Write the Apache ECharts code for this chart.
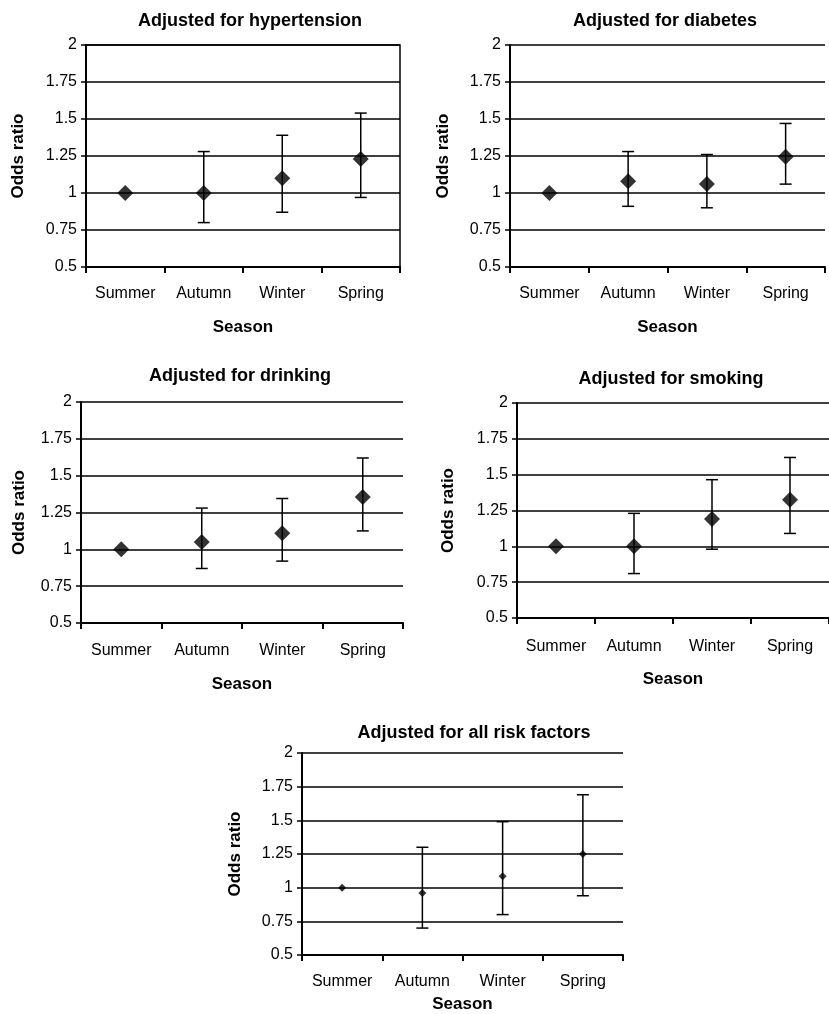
<!DOCTYPE html>
<html>
<head>
<meta charset="utf-8">
<script src="https://cdn.jsdelivr.net/npm/echarts@6/dist/echarts.min.js"></script>
<style>
  html, body { margin: 0; padding: 0; background: #fff; }
  #main { width: 829px; height: 1014px; }
</style>
</head>
<body>
<div id="main"></div>
<script>
const seasons = ['Summer', 'Autumn', 'Winter', 'Spring'];
const yTicks = [0.5, 0.75, 1, 1.25, 1.5, 1.75, 2];

const titles = [
  'Adjusted for hypertension',
  'Adjusted for diabetes',
  'Adjusted for drinking',
  'Adjusted for smoking',
  'Adjusted for all risk factors'
];

// odds ratio + lower/upper limits (Summer is the reference, no bar)
const orHyper = [1.00, 1.00, 1.10, 1.23];
const loHyper = [null, 0.80, 0.87, 0.97];
const hiHyper = [null, 1.28, 1.39, 1.54];

const orDiab = [1.00, 1.08, 1.06, 1.245];
const loDiab = [null, 0.91, 0.90, 1.06];
const hiDiab = [null, 1.28, 1.26, 1.47];

const orDrink = [1.00, 1.05, 1.11, 1.355];
const loDrink = [null, 0.87, 0.92, 1.125];
const hiDrink = [null, 1.28, 1.345, 1.62];

const orSmoke = [1.00, 1.00, 1.19, 1.325];
const loSmoke = [null, 0.81, 0.98, 1.09];
const hiSmoke = [null, 1.23, 1.465, 1.62];

const orAll = [1.00, 0.96, 1.085, 1.25];
const loAll = [null, 0.70, 0.80, 0.94];
const hiAll = [null, 1.30, 1.49, 1.69];

const panels = [
  { or: orHyper, lo: loHyper, hi: hiHyper },
  { or: orDiab, lo: loDiab, hi: hiDiab },
  { or: orDrink, lo: loDrink, hi: hiDrink },
  { or: orSmoke, lo: loSmoke, hi: hiSmoke },
  { or: orAll, lo: loAll, hi: hiAll }
];

// layout of each small chart
const boxes = [
  { left: 86, top: 45, width: 314, height: 222, tx: 245, ty: 7, yGap: 59, xGap: 52, lblM: 19, sym: 16, border: true },
  { left: 510, top: 45, width: 315, height: 222, tx: 660, ty: 7, yGap: 58, xGap: 52, lblM: 19, sym: 16 },
  { left: 81, top: 402, width: 322, height: 221, tx: 235, ty: 362, yGap: 53, xGap: 53, lblM: 20, sym: 16 },
  { left: 517, top: 403, width: 316, height: 215, tx: 666, ty: 365, yGap: 60, xGap: 53, lblM: 21, sym: 16 },
  { left: 302, top: 753, width: 321, height: 204, tx: 469, ty: 719, yGap: 58, xGap: 41, lblM: 19, sym: 8 }
];

const font = 'Liberation Sans, Arial, sans-serif';

var myChart = echarts.init(document.getElementById('main'));

let grid = [], xAxis = [], yAxis = [], title = [], series = [];

for (let i = 0; i < panels.length; i++) {
  const b = boxes[i];
  const p = panels[i];

  grid.push({
    left: b.left, top: b.top, width: b.width, height: b.height,
    show: !!b.border, borderColor: '#000', borderWidth: 1.5
  });

  title.push({
    text: titles[i],
    left: b.tx, top: b.ty, textAlign: 'center',
    textStyle: { fontFamily: font, fontSize: 18, fontWeight: 'bold', color: '#000' }
  });

  xAxis.push({
    type: 'category', gridIndex: i, data: seasons,
    name: 'Season', nameLocation: 'middle', nameGap: b.xGap,
    nameTextStyle: { fontFamily: font, fontSize: 17, fontWeight: 'bold', color: '#000' },
    axisLine: { lineStyle: { color: '#000', width: 2 } },
    axisTick: { show: true, interval: 0, length: 6, lineStyle: { color: '#000', width: 2 } },
    axisLabel: { interval: 0, fontFamily: font, fontSize: 16, color: '#000', margin: b.lblM },
    splitLine: { show: false }
  });

  yAxis.push({
    type: 'value', gridIndex: i, min: 0.5, max: 2, interval: 0.25,
    name: 'Odds ratio', nameLocation: 'middle', nameRotate: 90, nameGap: b.yGap,
    nameTextStyle: { fontFamily: font, fontSize: 17, fontWeight: 'bold', color: '#000' },
    axisLine: { show: true, lineStyle: { color: '#000', width: 2 } },
    axisTick: { show: true, length: 5, lineStyle: { color: '#000', width: 1.5 } },
    axisLabel: { fontFamily: font, fontSize: 16, color: '#000', margin: 9 },
    splitLine: { show: true, lineStyle: { color: '#000', width: 1.5 } }
  });

  let bars = [];
  for (let k = 0; k < seasons.length; k++) {
    if (p.lo[k] != null) bars.push([k, p.lo[k], p.hi[k]]);
  }

  series.push({
    type: 'custom', xAxisIndex: i, yAxisIndex: i,
    data: bars,
    encode: { x: 0, y: [1, 2] },
    z: 3,
    renderItem: function (params, api) {
      const x = api.value(0);
      const lo = api.coord([x, api.value(1)]);
      const hi = api.coord([x, api.value(2)]);
      const cap = 6;
      const st = { stroke: '#000', lineWidth: 1.5 };
      return {
        type: 'group',
        children: [
          { type: 'line', shape: { x1: lo[0], y1: lo[1], x2: hi[0], y2: hi[1] }, style: st },
          { type: 'line', shape: { x1: lo[0] - cap, y1: lo[1], x2: lo[0] + cap, y2: lo[1] }, style: st },
          { type: 'line', shape: { x1: hi[0] - cap, y1: hi[1], x2: hi[0] + cap, y2: hi[1] }, style: st }
        ]
      };
    }
  });

  series.push({
    type: 'scatter', xAxisIndex: i, yAxisIndex: i,
    data: p.or,
    symbol: 'diamond', symbolSize: b.sym,
    itemStyle: { color: '#000' },
    z: 4
  });
}

var option = {
  backgroundColor: '#fff',
  animation: false,
  title: title,
  grid: grid,
  xAxis: xAxis,
  yAxis: yAxis,
  series: series
};

myChart.setOption(option);
</script>
</body>
</html>
